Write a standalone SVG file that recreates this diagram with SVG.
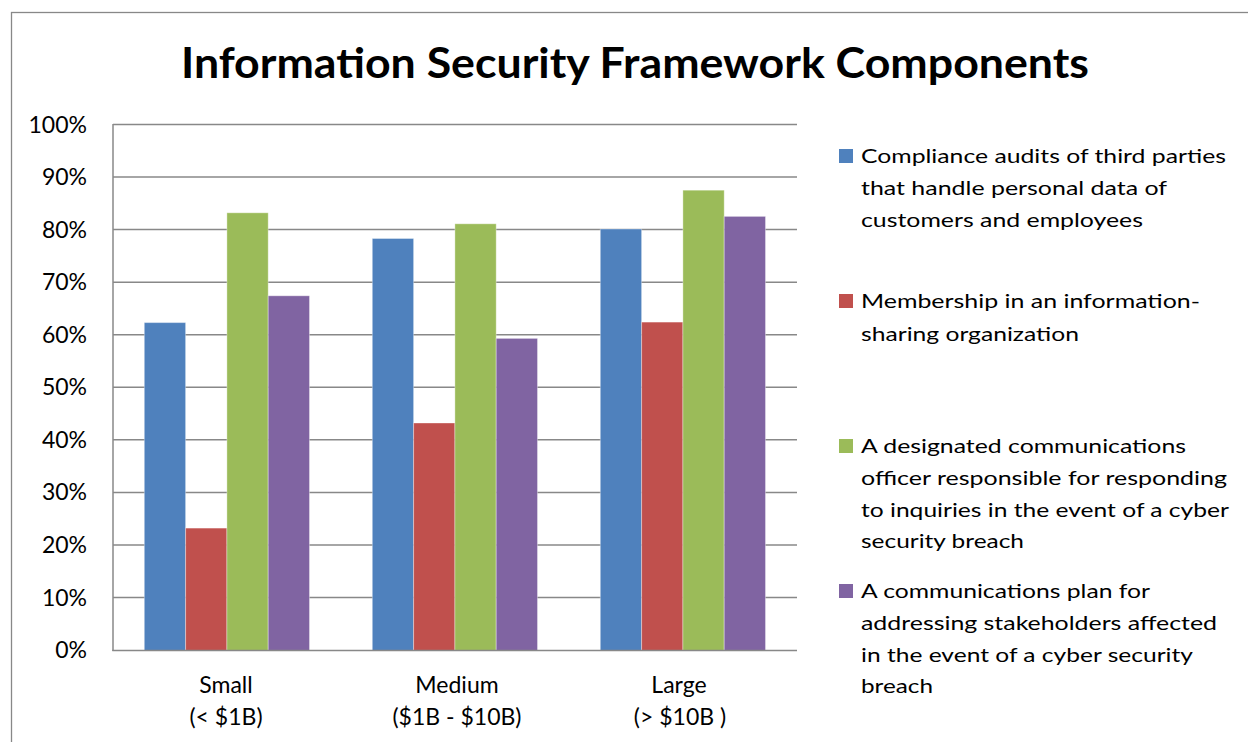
<svg xmlns="http://www.w3.org/2000/svg" width="1248" height="742" viewBox="0 0 1248 742">
<style>
text{font-family:Lato,"Liberation Sans",Arial,sans-serif;fill:#000}
.title{font-size:42px;font-weight:bold}
.yl{font-size:23px;text-anchor:end}
.xl{font-size:23px;text-anchor:middle}
.lg{font-size:20px}
.grid{stroke:#888;stroke-width:1.5;fill:none}
.axis{stroke:#888;stroke-width:1.5;fill:none}
.b{fill:#4F81BD}.r{fill:#C0504D}.g{fill:#9BBB59}.p{fill:#8064A2}
.bar{stroke:#fff;stroke-opacity:0.35;stroke-width:1}
</style>
<rect x="0" y="0" width="1248" height="742" fill="#fff"/>
<rect x="11.5" y="12.5" width="1300" height="800" fill="#fff" stroke="#888" stroke-width="1.3"/>
<g id="title"><text class="title" x="181" y="78" textLength="908" lengthAdjust="spacingAndGlyphs">Information Security Framework Components</text></g>
<g id="gridlines">
<line class="grid" x1="113" y1="124.5" x2="797" y2="124.5"/>
<line class="grid" x1="113" y1="177" x2="797" y2="177"/>
<line class="grid" x1="113" y1="229.6" x2="797" y2="229.6"/>
<line class="grid" x1="113" y1="282.2" x2="797" y2="282.2"/>
<line class="grid" x1="113" y1="334.7" x2="797" y2="334.7"/>
<line class="grid" x1="113" y1="387.3" x2="797" y2="387.3"/>
<line class="grid" x1="113" y1="439.8" x2="797" y2="439.8"/>
<line class="grid" x1="113" y1="492.4" x2="797" y2="492.4"/>
<line class="grid" x1="113" y1="544.9" x2="797" y2="544.9"/>
<line class="grid" x1="113" y1="597.5" x2="797" y2="597.5"/>
</g>
<g id="y-axis-labels">
<text class="yl" x="87" y="132.5">100%</text>
<text class="yl" x="87" y="185">90%</text>
<text class="yl" x="87" y="237.6">80%</text>
<text class="yl" x="87" y="290.2">70%</text>
<text class="yl" x="87" y="342.7">60%</text>
<text class="yl" x="87" y="395.3">50%</text>
<text class="yl" x="87" y="447.8">40%</text>
<text class="yl" x="87" y="500.4">30%</text>
<text class="yl" x="87" y="552.9">20%</text>
<text class="yl" x="87" y="605.5">10%</text>
<text class="yl" x="87" y="658">0%</text>
</g>
<g id="series-compliance">
<rect class="b bar" x="144.3" y="322.6" width="41.3" height="327.9"/>
<rect class="b bar" x="372.3" y="238.5" width="41.3" height="412"/>
<rect class="b bar" x="600.3" y="229" width="41.3" height="421.5"/>
</g>
<g id="series-membership">
<rect class="r bar" x="185.6" y="528.1" width="41.3" height="122.4"/>
<rect class="r bar" x="413.6" y="423" width="41.3" height="227.5"/>
<rect class="r bar" x="641.6" y="322.1" width="41.3" height="328.4"/>
</g>
<g id="series-officer">
<rect class="g bar" x="226.9" y="212.8" width="41.3" height="437.7"/>
<rect class="g bar" x="454.9" y="223.8" width="41.3" height="426.7"/>
<rect class="g bar" x="682.9" y="190.2" width="41.3" height="460.3"/>
</g>
<g id="series-plan">
<rect class="p bar" x="268.2" y="295.8" width="41.3" height="354.7"/>
<rect class="p bar" x="496.2" y="338.4" width="41.3" height="312.1"/>
<rect class="p bar" x="724.2" y="216.4" width="41.3" height="434.1"/>
</g>
<g id="axes">
<line class="axis" x1="113" y1="124" x2="113" y2="651"/>
<line class="axis" x1="112.3" y1="650.5" x2="797" y2="650.5"/>
</g>
<g id="x-axis-labels">
<text class="xl" x="226" y="693">Small</text>
<text class="xl" x="226" y="725">(&lt; $1B)</text>
<text class="xl" x="457" y="693">Medium</text>
<text class="xl" x="457" y="725">($1B - $10B)</text>
<text class="xl" x="679" y="693">Large</text>
<text class="xl" x="680" y="725">(&gt; $10B )</text>
</g>
<g id="legend-compliance">
<rect class="b" x="839" y="149" width="14" height="14"/>
<text class="lg" x="861" y="163.3" textLength="365" lengthAdjust="spacingAndGlyphs">Compliance audits of third parties</text>
<text class="lg" x="861" y="195" textLength="306" lengthAdjust="spacingAndGlyphs">that handle personal data of</text>
<text class="lg" x="861" y="226.7" textLength="282" lengthAdjust="spacingAndGlyphs">customers and employees</text>
</g>
<g id="legend-membership">
<rect class="r" x="839" y="294" width="14" height="14"/>
<text class="lg" x="861" y="308.3" textLength="339" lengthAdjust="spacingAndGlyphs">Membership in an information-</text>
<text class="lg" x="861" y="340.5" textLength="218" lengthAdjust="spacingAndGlyphs">sharing organization</text>
</g>
<g id="legend-officer">
<rect class="g" x="839" y="439" width="14" height="14"/>
<text class="lg" x="861" y="453.3" textLength="325" lengthAdjust="spacingAndGlyphs">A designated communications</text>
<text class="lg" x="861" y="485" textLength="366" lengthAdjust="spacingAndGlyphs">officer responsible for responding</text>
<text class="lg" x="861" y="516.7" textLength="368" lengthAdjust="spacingAndGlyphs">to inquiries in the event of a cyber</text>
<text class="lg" x="861" y="548.3" textLength="163" lengthAdjust="spacingAndGlyphs">security breach</text>
</g>
<g id="legend-plan">
<rect class="p" x="839" y="584" width="14" height="14"/>
<text class="lg" x="861" y="598.3" textLength="289" lengthAdjust="spacingAndGlyphs">A communications plan for</text>
<text class="lg" x="861" y="630" textLength="356" lengthAdjust="spacingAndGlyphs">addressing stakeholders affected</text>
<text class="lg" x="861" y="661.7" textLength="332" lengthAdjust="spacingAndGlyphs">in the event of a cyber security</text>
<text class="lg" x="861" y="693.3" textLength="72" lengthAdjust="spacingAndGlyphs">breach</text>
</g>
</svg>
